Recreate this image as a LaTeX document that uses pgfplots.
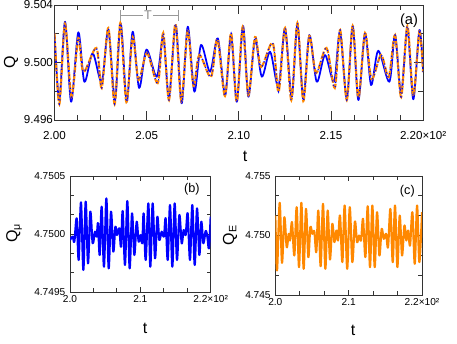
\documentclass[border=0pt]{standalone}
\usepackage{fontspec}
\setmainfont{Liberation Sans}
\usepackage{pgfplots}
\pgfplotsset{compat=1.18}
\definecolor{qblue}{RGB}{0,0,255}
\definecolor{qorange}{RGB}{255,136,0}

\pgfplotsset{
  panel/.style={
    scale only axis, anchor=south west,
    axis line style={black!80, line width=0.6pt},
    every tick/.style={black!80, line width=0.6pt},
    tick align=inside,
    /pgf/number format/assume math mode=true,
    xlabel={t},
    label style={font=\fontsize{12}{14}\selectfont},
  },
}

\begin{document}
\begin{tikzpicture}[x=1pt,y=1pt]
\path[use as bounding box] (0,0) rectangle (342.75,257.25);

% (a) Q
\begin{axis}[panel, at={(40.9pt,167.25pt)}, width=276.4pt, height=86.25pt,
  xmin=200, xmax=220, ymin=9.496, ymax=9.504,
  xtick={200,205,210,215,220}, xticklabels={2.00,2.05,2.10,2.15,2.20×10²},
  ytick={9.496,9.500,9.504}, yticklabels={9.496,9.500,9.504},
  minor x tick num=3, minor y tick num=1,
  major tick length=6.5pt, minor tick length=3.5pt,
  tick label style={font=\fontsize{8.7}{10}\selectfont},
  xticklabel style={yshift=-5pt},
  yticklabel style={inner xsep=1pt},
  ylabel={Q},
  xlabel style={at={(axis description cs:0.517,-0.313)}, anchor=center},
  ylabel style={at={(axis description cs:-0.118,0.5)}, anchor=center},
]
\addplot[qblue, line width=1.3pt, smooth, line join=round] coordinates {
(200.00,9.50191) (200.26,9.49739) (200.57,9.50284) (200.90,9.49727) (201.29,9.50210)
(201.62,9.49866) (202.07,9.50064) (202.56,9.49866) (202.92,9.50226) (203.28,9.49739)
(203.59,9.50273) (203.92,9.49727) (204.24,9.50214) (204.59,9.49823) (204.99,9.50090)
(205.55,9.49901) (205.90,9.50179) (206.21,9.49762) (206.58,9.50261) (206.90,9.49716)
(207.23,9.50249) (207.59,9.49797) (207.95,9.50122) (208.44,9.49936) (208.86,9.50168)
(209.26,9.49774) (209.58,9.50191) (209.89,9.49727) (210.23,9.50254) (210.52,9.49762)
(210.88,9.50157) (211.25,9.49901) (211.70,9.50075) (212.15,9.49832) (212.51,9.50238)
(212.87,9.49762) (213.18,9.50261) (213.50,9.49751) (213.83,9.50191) (214.23,9.49866)
(214.68,9.50052) (215.17,9.49866) (215.49,9.50214) (215.86,9.49751) (216.18,9.50254)
(216.49,9.49739) (216.85,9.50203) (217.18,9.49843) (217.57,9.50082) (218.17,9.49866)
(218.48,9.50191) (218.81,9.49786) (219.15,9.50238) (219.47,9.49744) (219.80,9.50226)
(220.00,9.49948)
};
\addplot[qorange, line width=1.6pt, smooth, dash pattern=on 6pt off 1.5pt] coordinates {
(200.00,9.50205) (200.26,9.49711) (200.57,9.50268) (200.92,9.49760) (201.29,9.50170)
(201.57,9.49934) (202.27,9.50101) (202.56,9.49823) (202.92,9.50240) (203.26,9.49711)
(203.57,9.50275) (203.90,9.49725) (204.24,9.50177) (204.56,9.49878) (205.02,9.50066)
(205.60,9.49857) (205.90,9.50205) (206.21,9.49739) (206.56,9.50268) (206.88,9.49732)
(207.23,9.50219) (207.54,9.49837) (207.86,9.50052) (208.49,9.49899) (208.84,9.50163)
(209.25,9.49767) (209.58,9.50205) (209.89,9.49725) (210.21,9.50247) (210.52,9.49774)
(210.88,9.50177) (211.21,9.49969) (211.84,9.50136) (212.16,9.49795) (212.51,9.50240)
(212.85,9.49739) (213.18,9.50275) (213.50,9.49732) (213.83,9.50184) (214.19,9.49927)
(214.76,9.50101) (215.21,9.49823) (215.50,9.50226) (215.86,9.49739) (216.18,9.50254)
(216.49,9.49753) (216.85,9.50205) (217.20,9.49885) (217.72,9.50052) (218.14,9.49899)
(218.48,9.50191) (218.81,9.49760) (219.15,9.50254) (219.47,9.49767) (219.80,9.50212)
(220.00,9.49934)
};
\addplot[qblue, line width=0.9pt, smooth, dash pattern=on 0.9pt off 2.4pt] coordinates {
(200.00,9.50205) (200.26,9.49711) (200.57,9.50268) (200.92,9.49760) (201.29,9.50170)
(201.57,9.49934) (202.27,9.50101) (202.56,9.49823) (202.92,9.50240) (203.26,9.49711)
(203.57,9.50275) (203.90,9.49725) (204.24,9.50177) (204.56,9.49878) (205.02,9.50066)
(205.60,9.49857) (205.90,9.50205) (206.21,9.49739) (206.56,9.50268) (206.88,9.49732)
(207.23,9.50219) (207.54,9.49837) (207.86,9.50052) (208.49,9.49899) (208.84,9.50163)
(209.25,9.49767) (209.58,9.50205) (209.89,9.49725) (210.21,9.50247) (210.52,9.49774)
(210.88,9.50177) (211.21,9.49969) (211.84,9.50136) (212.16,9.49795) (212.51,9.50240)
(212.85,9.49739) (213.18,9.50275) (213.50,9.49732) (213.83,9.50184) (214.19,9.49927)
(214.76,9.50101) (215.21,9.49823) (215.50,9.50226) (215.86,9.49739) (216.18,9.50254)
(216.49,9.49753) (216.85,9.50205) (217.20,9.49885) (217.72,9.50052) (218.14,9.49899)
(218.48,9.50191) (218.81,9.49760) (219.15,9.50254) (219.47,9.49767) (219.80,9.50212)
(220.00,9.49934)
};
\draw[black!40, line width=1pt, |-|] (axis cs:203.55,9.50326) -- (axis cs:206.76,9.50326);
\node[fill=white, inner sep=1pt, text=black!45, font=\fontsize{9.5}{10}\selectfont] at (axis cs:205.07,9.50326) {T};
\node[font=\fontsize{11}{12}\selectfont] at (rel axis cs:0.962,0.861) {(a)};
\end{axis}

% (b) Q_mu
\begin{axis}[panel, at={(52.5pt,38.25pt)}, width=105.5pt, height=87pt,
  xmin=200, xmax=220, ymin=4.7495, ymax=4.7505,
  xtick={200,210,220}, xticklabels={2.0,2.1,2.2×10²},
  ytick={4.7495,4.7500,4.7505}, yticklabels={4.7495,4.7500,4.7505},
  minor x tick num=2, minor y tick num=2,
  major tick length=4pt, minor tick length=3pt,
  tick label style={font=\fontsize{7.6}{9}\selectfont},
  xticklabel style={inner ysep=2pt},
  ylabel={Q\textsubscript{μ}},
  xlabel style={at={(axis description cs:0.533,-0.31)}, anchor=center},
  ylabel style={at={(axis description cs:-0.398,0.51)}, anchor=center},
]
\addplot[qblue, line width=1.6pt, smooth, line join=round] coordinates {
(200.00,4.749948) (200.38,4.749977) (200.62,4.749934) (200.95,4.750135) (201.23,4.749776)
(201.56,4.750273) (201.90,4.749690) (202.23,4.750279) (202.56,4.749747) (202.89,4.750193)
(203.22,4.749920) (203.55,4.750020) (203.80,4.749977) (203.98,4.750092) (204.22,4.749819)
(204.50,4.750236) (204.83,4.749718) (205.17,4.750307) (205.50,4.749704) (205.83,4.750193)
(206.16,4.749848) (206.45,4.750063) (206.68,4.749991) (207.01,4.750049) (207.25,4.749891)
(207.49,4.750198) (207.82,4.749733) (208.15,4.750284) (208.48,4.749704) (208.82,4.750178)
(209.15,4.749819) (209.48,4.750106) (209.76,4.749934) (210.05,4.749991) (210.28,4.749920)
(210.47,4.750178) (210.76,4.749776) (211.14,4.750264) (211.42,4.749718) (211.75,4.750264)
(212.09,4.749790) (212.42,4.750149) (212.70,4.749948) (213.03,4.750020) (213.36,4.749977)
(213.60,4.750135) (213.89,4.749776) (214.22,4.750250) (214.55,4.749718) (214.88,4.750264)
(215.21,4.749776) (215.55,4.750164) (215.88,4.749920) (216.16,4.750034) (216.45,4.749991)
(216.73,4.750178) (217.06,4.749776) (217.39,4.750250) (217.73,4.749733) (218.06,4.750221)
(218.39,4.749819) (218.67,4.750106) (218.96,4.749920) (219.29,4.750026) (219.53,4.749977)
(219.76,4.749876) (220.00,4.750150)
};
\node[font=\fontsize{9.5}{11}\selectfont] at (rel axis cs:0.867,0.89) {(b)};
\end{axis}

% (c) Q_E
\begin{axis}[panel, at={(206.5pt,36pt)}, width=110pt, height=89.25pt,
  xmin=200, xmax=220, ymin=4.745, ymax=4.755,
  xtick={200,210,220}, xticklabels={2.0,2.1,2.2×10²},
  ytick={4.745,4.750,4.755}, yticklabels={4.745,4.750,4.755},
  minor x tick num=2, minor y tick num=2,
  major tick length=4pt, minor tick length=3pt,
  tick label style={font=\fontsize{7.6}{9}\selectfont},
  xticklabel style={inner ysep=2pt},
  ylabel={Q\textsubscript{E}},
  xlabel style={at={(axis description cs:0.53,-0.294)}, anchor=center},
  ylabel style={at={(axis description cs:-0.309,0.504)}, anchor=center},
]
\addplot[qorange, line width=1.6pt, smooth, line join=round] coordinates {
(200.00,4.75168) (200.23,4.74706) (200.59,4.75275) (200.91,4.74770) (201.23,4.75154)
(201.55,4.74902) (201.82,4.75014) (202.00,4.74958) (202.27,4.75112) (202.59,4.74832)
(202.91,4.75238) (203.23,4.74734) (203.55,4.75275) (203.86,4.74720) (204.18,4.75224)
(204.50,4.74818) (204.77,4.75070) (205.05,4.75014) (205.32,4.75034) (205.59,4.74860)
(205.86,4.75210) (206.18,4.74742) (206.50,4.75266) (206.82,4.74720) (207.14,4.75210)
(207.45,4.74798) (207.77,4.75098) (208.05,4.74944) (208.32,4.75042) (208.55,4.74958)
(208.82,4.75168) (209.14,4.74776) (209.45,4.75252) (209.80,4.74720) (210.15,4.75238)
(210.50,4.74776) (210.85,4.75118) (211.14,4.74944) (211.41,4.75000) (211.69,4.74958)
(211.96,4.75140) (212.28,4.74818) (212.60,4.75246) (212.91,4.74734) (213.23,4.75252)
(213.55,4.74734) (213.87,4.75196) (214.19,4.74832) (214.50,4.75056) (214.78,4.74972)
(215.10,4.75014) (215.37,4.74902) (215.69,4.75224) (216.01,4.74776) (216.32,4.75252)
(216.64,4.74734) (216.96,4.75168) (217.28,4.74832) (217.60,4.75084) (217.87,4.74958)
(218.10,4.75042) (218.37,4.74916) (218.69,4.75196) (219.01,4.74762) (219.33,4.75252)
(219.64,4.74776) (220.00,4.75196)
};
\node[font=\fontsize{9.5}{11}\selectfont] at (rel axis cs:0.90,0.87) {(c)};
\end{axis}
\end{tikzpicture}
\end{document}
